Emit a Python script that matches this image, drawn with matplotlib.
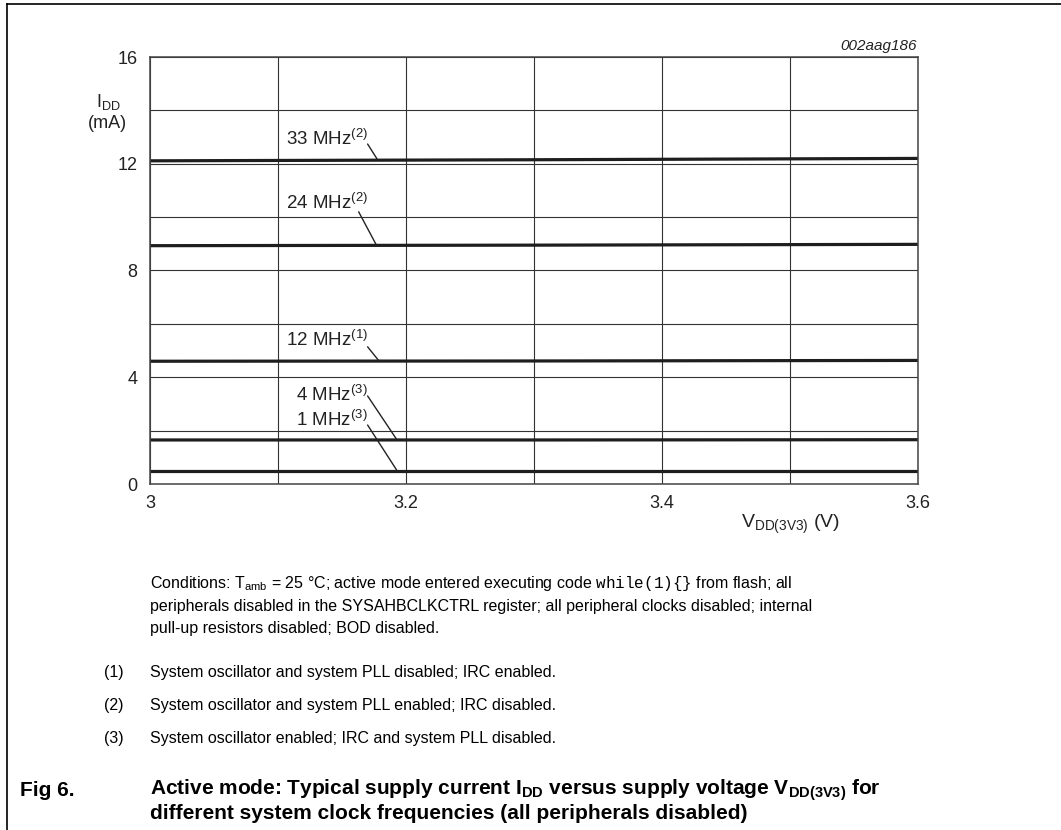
import numpy as np
import matplotlib
matplotlib.use('Agg')
import matplotlib.pyplot as plt
from matplotlib.lines import Line2D

plt.rcParams['font.family'] = ['Liberation Sans', 'DejaVu Sans']
plt.rcParams['mathtext.fontset'] = 'custom'
plt.rcParams['mathtext.rm'] = 'Liberation Sans'
plt.rcParams['mathtext.it'] = 'Liberation Sans:italic'
plt.rcParams['mathtext.bf'] = 'Liberation Sans:bold'
plt.rcParams['mathtext.tt'] = 'Liberation Mono'

# supply voltage (V) and typical I_DD (mA) per clock frequency
vdd = [3.0, 3.3, 3.6]
idd_33mhz = [12.11, 12.15, 12.20]
idd_24mhz = [8.93, 8.95, 8.98]
idd_12mhz = [4.60, 4.61, 4.63]
idd_4mhz = [1.65, 1.65, 1.66]
idd_1mhz = [0.50, 0.50, 0.50]

series = [idd_33mhz, idd_24mhz, idd_12mhz, idd_4mhz, idd_1mhz]
labels = ['33 MHz$^{\\mathregular{(2)}}$', '24 MHz$^{\\mathregular{(2)}}$',
          '12 MHz$^{\\mathregular{(1)}}$', '4 MHz$^{\\mathregular{(3)}}$',
          '1 MHz$^{\\mathregular{(3)}}$']
# label baseline (x right edge, y) and leader line start / end x, in data units
label_xy = [(3.170, 12.70), (3.170, 10.30), (3.170, 5.17), (3.170, 3.11), (3.170, 2.17)]
leader_start = [(3.170, 12.74), (3.163, 10.20), (3.170, 5.14), (3.170, 3.30), (3.170, 2.21)]
leader_end_x = [3.178, 3.177, 3.179, 3.193, 3.193]

xticks = [3.0, 3.2, 3.4, 3.6]
xtick_labels = ['3', '3.2', '3.4', '3.6']
yticks = [0, 4, 8, 12, 16]

W, H = 1061, 830


def px(x, y):
    return x / W, 1 - y / H


def main():
    fig = plt.figure(figsize=(W / 100, H / 100), dpi=100)
    ax = fig.add_axes([150 / W, 1 - 484 / H, 768 / W, 427 / H])
    ax.set_xlim(3.0, 3.6)
    ax.set_ylim(0, 16)
    ax.set_xticks(np.arange(3.0, 3.61, 0.1), minor=True)
    ax.set_yticks(np.arange(0, 17, 2), minor=True)
    ax.set_xticks(xticks)
    ax.set_xticklabels(xtick_labels)
    ax.set_yticks(yticks)
    ax.grid(which='both', color='#333333', lw=0.8)
    ax.tick_params(which='both', length=0, labelsize=13, colors='#222222')
    ax.tick_params(axis='x', pad=8)
    ax.tick_params(axis='y', pad=9)
    for s in ax.spines.values():
        s.set_color('#444444')
        s.set_linewidth(1.1)
    ax.set_axisbelow(True)

    for vals, lab, (tx, ty), (sx, sy), ex in zip(series, labels, label_xy,
                                                  leader_start, leader_end_x):
        ax.plot(vdd, vals, color='#1e1e1e', lw=2.3, solid_capstyle='butt')
        ax.text(tx, ty, lab, ha='right', va='baseline', fontsize=13.5, color='#222222')
        ey = np.interp(ex, vdd, vals)
        ax.annotate('', xy=(ex, ey), xytext=(sx, sy),
                    arrowprops=dict(arrowstyle='-', color='#222222', lw=1,
                                    shrinkA=0, shrinkB=0))

    fig.text(*px(917, 46), '002aag186', ha='right', va='center',
             fontsize=11, style='italic', color='#222222')
    fig.text(*px(108, 102), 'I$_{\\mathregular{DD}}$', ha='center', va='center',
             fontsize=13, color='#222222')
    fig.text(*px(107, 123), '(mA)', ha='center', va='center',
             fontsize=13, color='#222222')
    fig.text(*px(790, 524), 'V$_{\\mathregular{DD(3V3)}}$ (V)', ha='center',
             va='center', fontsize=14, color='#222222')

    # frame
    fig.add_artist(Line2D([7 / W, 7 / W], [0, 1 - 4 / H], color='black', lw=1.2))
    fig.add_artist(Line2D([7 / W, 1], [1 - 4 / H, 1 - 4 / H], color='black', lw=1.2))

    body = 11.5
    fig.text(*px(150, 583), 'Conditions: T$_{\\mathregular{amb}}$ = 25 \u00b0C; active mode '
             'entered executing code $\\mathtt{while(1)\\{\\}}$ from flash; all',
             va='center', fontsize=body, color='black')
    fig.text(*px(150, 606), 'peripherals disabled in the SYSAHBCLKCTRL register; '
             'all peripheral clocks disabled; internal',
             va='center', fontsize=body, color='black')
    fig.text(*px(150, 629), 'pull-up resistors disabled; BOD disabled.',
             va='center', fontsize=body, color='black')
    notes = ['System oscillator and system PLL disabled; IRC enabled.',
             'System oscillator and system PLL enabled; IRC disabled.',
             'System oscillator enabled; IRC and system PLL disabled.']
    for i, n in enumerate(notes):
        y = 672 + 33 * i
        fig.text(*px(104, y), '(%d)' % (i + 1), va='center', fontsize=body)
        fig.text(*px(150, y), n, va='center', fontsize=body)

    title = 15
    fig.text(*px(20, 790), 'Fig 6.', va='center', fontsize=title, weight='bold')
    fig.text(*px(150, 790), 'Active mode: Typical supply current I$_{\\mathbf{DD}}$ '
             'versus supply voltage V$_{\\mathbf{DD(3V3)}}$ for',
             va='center', fontsize=title, weight='bold')
    fig.text(*px(150, 813), 'different system clock frequencies (all peripherals disabled)',
             va='center', fontsize=title, weight='bold')

    fig.savefig('out.png', dpi=100)


if __name__ == '__main__':
    main()
